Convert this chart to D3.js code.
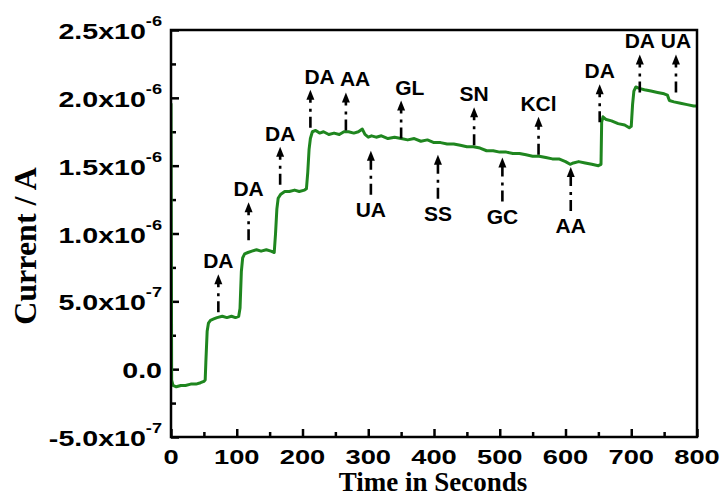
<!DOCTYPE html>
<html>
<head>
<meta charset="utf-8">
<script src="https://cdn.jsdelivr.net/npm/d3@7"></script>
<style>
  body { margin: 0; background: #fff; }
  svg { display: block; }
</style>
</head>
<body>
<div id="chart"></div>
<script>
// ---------------- data ----------------
// time (s) and current (in 1e-6 A)
const times = [0, 1, 3, 8, 15, 22, 30, 38, 45, 50, 52, 53, 55, 57, 60, 65, 70, 78, 85, 92, 98, 103,
  105, 107, 109, 112, 117, 123, 130, 137, 145, 152, 157, 159, 161, 163, 167, 173, 180, 188, 195, 203,
  206, 208, 210, 212, 215, 220, 226, 232, 240, 248, 256, 263, 270, 278, 285, 291, 295, 300, 305, 312,
  320, 330, 340, 350, 360, 370, 380, 390, 400, 410, 420, 430, 440, 450, 460, 470, 480, 490, 500, 510,
  520, 530, 540, 550, 560, 570, 580, 590, 600, 607, 612, 620, 630, 640, 650, 654, 655, 657, 662, 670,
  680, 690, 697, 700, 702, 704, 707, 712, 720, 730, 740, 750, 755, 758, 765, 775, 785, 795, 800];
const current = [1.96, -0.08, -0.12, -0.13, -0.12, -0.12, -0.11, -0.11, -0.10, -0.09, -0.08, 0.05, 0.28, 0.34, 0.36, 0.37, 0.38, 0.39, 0.38, 0.39, 0.38, 0.39,
  0.45, 0.72, 0.82, 0.85, 0.86, 0.87, 0.88, 0.87, 0.88, 0.87, 0.86, 1.00, 1.18, 1.26, 1.29, 1.31, 1.31, 1.32, 1.31, 1.32,
  1.33, 1.45, 1.62, 1.70, 1.75, 1.76, 1.74, 1.75, 1.73, 1.74, 1.73, 1.75, 1.75, 1.74, 1.75, 1.77, 1.73, 1.71, 1.72, 1.71,
  1.72, 1.70, 1.71, 1.70, 1.69, 1.70, 1.68, 1.69, 1.67, 1.67, 1.66, 1.66, 1.65, 1.64, 1.64, 1.63, 1.61, 1.61, 1.60, 1.60,
  1.59, 1.59, 1.58, 1.57, 1.57, 1.56, 1.55, 1.55, 1.53, 1.51, 1.52, 1.53, 1.52, 1.51, 1.50, 1.51, 1.82, 1.86, 1.84, 1.83,
  1.81, 1.80, 1.78, 1.79, 1.95, 2.05, 2.08, 2.07, 2.06, 2.05, 2.04, 2.03, 2.02, 1.98, 1.97, 1.96, 1.95, 1.94, 1.94];

// analyte additions: time, label, arrow side, arrow anchor level (1e-6 A)
const annTimes = [72, 118, 166, 212, 266, 304, 350, 406, 461, 504, 559, 608, 652, 713, 768];
const annLabels = ["DA", "DA", "DA", "DA", "AA", "UA", "GL", "SS", "SN", "GC", "KCl", "AA", "DA", "DA", "UA"];
const annSide = ["up", "up", "up", "up", "up", "down", "up", "down", "up", "down", "up", "down", "up", "up", "up"];
const annLevel = [0.42, 0.95, 1.36, 1.78, 1.76, 1.61, 1.70, 1.58, 1.65, 1.56, 1.58, 1.49, 1.82, 2.04, 2.04];

// axis ticks
const xTicks = [0, 100, 200, 300, 400, 500, 600, 700, 800];
const xMinor = [50, 150, 250, 350, 450, 550, 650, 750];
const yTicks = [-0.5, 0, 0.5, 1.0, 1.5, 2.0, 2.5];
const yMinor = [-0.25, 0.25, 0.75, 1.25, 1.75, 2.25];
const yTickMant = ["-5.0x10", "0.0", "5.0x10", "1.0x10", "1.5x10", "2.0x10", "2.5x10"];
const yTickExp = ["-7", "", "-7", "-6", "-6", "-6", "-6"];

// ---------------- layout ----------------
const W = 723, H = 496;
const mL = 171, mR = 697, mT = 30, mB = 437;
const green = "#1f861f";
const sansBold = "'Liberation Sans', Arial, sans-serif";
const serifBold = "'Liberation Serif', 'Times New Roman', serif";

const svg = d3.select("#chart").append("svg")
  .attr("width", W)
  .attr("height", H);

const x = d3.scaleLinear().domain([0, 800]).range([mL, mR]);
const y = d3.scaleLinear().domain([-0.5, 2.5]).range([mB, mT]);

// clip for the trace
svg.append("clipPath").attr("id", "plot-clip")
  .append("rect")
  .attr("x", mL).attr("y", mT)
  .attr("width", mR - mL).attr("height", mB - mT);

// ticks (inward)
const styleTicks = g => {
  g.select(".domain").remove();
  g.selectAll("line").attr("stroke", "#000").attr("stroke-width", 2.5);
};

svg.append("g")
  .attr("transform", "translate(0," + mB + ")")
  .call(d3.axisBottom(x).tickValues(xTicks).tickSize(-8).tickFormat(""))
  .call(styleTicks);
svg.append("g")
  .attr("transform", "translate(0," + mB + ")")
  .call(d3.axisBottom(x).tickValues(xMinor).tickSize(-5).tickFormat(""))
  .call(styleTicks);
svg.append("g")
  .attr("transform", "translate(" + mL + ",0)")
  .call(d3.axisLeft(y).tickValues(yTicks).tickSize(-8).tickFormat(""))
  .call(styleTicks);
svg.append("g")
  .attr("transform", "translate(" + mL + ",0)")
  .call(d3.axisLeft(y).tickValues(yMinor).tickSize(-5).tickFormat(""))
  .call(styleTicks);

// trace
const pts = times.map((t, i) => [t, current[i]]);
const line = d3.line()
  .x(d => x(d[0]))
  .y(d => y(d[1]));

svg.append("path")
  .attr("d", line(pts))
  .attr("clip-path", "url(#plot-clip)")
  .attr("fill", "none")
  .attr("stroke", green)
  .attr("stroke-width", 3)
  .attr("stroke-linejoin", "round");

// frame
svg.append("rect")
  .attr("x", mL).attr("y", mT)
  .attr("width", mR - mL).attr("height", mB - mT)
  .attr("fill", "none")
  .attr("stroke", "#000")
  .attr("stroke-width", 2.5);

// x tick labels (wide bold face)
svg.append("g").selectAll("text")
  .data(xTicks)
  .join("text")
  .attr("transform", d => "translate(" + x(d) + "," + (mB + 27) + ") scale(1.3,1)")
  .attr("text-anchor", "middle")
  .attr("font-family", sansBold)
  .attr("font-weight", "bold")
  .attr("font-size", 21)
  .text(d => d);

// y tick labels with superscript exponent
const yl = svg.append("g").selectAll("text")
  .data(yTicks)
  .join("text")
  .attr("transform", d => "translate(162," + (y(d) + 9) + ") scale(1.3,1)")
  .attr("text-anchor", "end")
  .attr("font-family", sansBold)
  .attr("font-weight", "bold")
  .attr("font-size", 22);
yl.append("tspan").text((d, i) => yTickMant[i]);
yl.append("tspan")
  .attr("font-size", 14)
  .attr("dy", -13)
  .text((d, i) => yTickExp[i]);

// axis titles
svg.append("text")
  .attr("x", 433).attr("y", 491)
  .attr("text-anchor", "middle")
  .attr("font-family", serifBold)
  .attr("font-weight", "bold")
  .attr("font-size", 27)
  .text("Time in Seconds");

svg.append("text")
  .attr("transform", "translate(36,246) rotate(-90)")
  .attr("text-anchor", "middle")
  .attr("font-family", serifBold)
  .attr("font-weight", "bold")
  .attr("font-size", 32)
  .text("Current / A");

// annotation arrows
const upLen = 38, downLen = 44;
const labelAnchor = ["middle", "middle", "middle", "start", "start", "middle", "start", "middle",
  "middle", "middle", "middle", "middle", "middle", "middle", "middle"];

const ann = svg.append("g").selectAll("g")
  .data(annTimes)
  .join("g");

ann.each(function (t, i) {
  const g = d3.select(this);
  const ax = x(t);
  const base = y(annLevel[i]);
  let tail, head, labelY;
  if (annSide[i] === "up") {
    tail = base; head = base - upLen; labelY = head - 6;
  } else {
    head = base; tail = base + downLen; labelY = tail + 22;
  }
  // dash-dot shaft from tail to just under the head
  g.append("line")
    .attr("x1", ax).attr("x2", ax)
    .attr("y1", tail).attr("y2", head + 8)
    .attr("stroke", "#000")
    .attr("stroke-width", 2.6)
    .attr("stroke-dasharray", "11,5,3,6");
  g.append("path")
    .attr("d", "M" + (ax - 4) + "," + (head + 10) + " L" + ax + "," + head + " L" + (ax + 4) + "," + (head + 10) + " Z")
    .attr("fill", "#000");
  const anchor = labelAnchor[i];
  g.append("text")
    .attr("x", anchor === "start" ? ax - 6 : ax)
    .attr("y", labelY)
    .attr("text-anchor", anchor)
    .attr("font-family", sansBold)
    .attr("font-weight", "bold")
    .attr("font-size", 21)
    .text(annLabels[i]);
});
</script>
</body>
</html>
